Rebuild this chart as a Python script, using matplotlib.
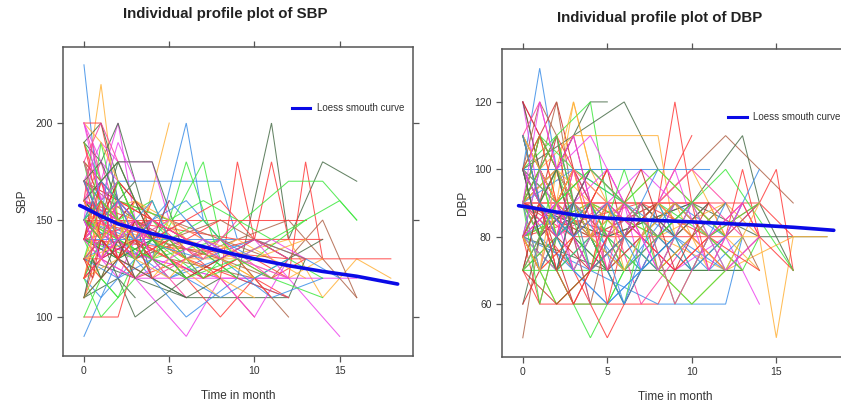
import matplotlib
matplotlib.use("Agg")
import matplotlib.pyplot as plt

plt.rcParams['font.family'] = ['Liberation Sans', 'DejaVu Sans']

# ---------------- data ----------------
sbp_times = [
    [0,1,2,3], [0,1,2,4], [0,1,2,3,4], [0,1,2,3], [0,1,2,4,6],
    [0,1,3,5], [0,2,4,6,7,8], [0,3,6,9,11,12,14,16], [0,4,8,9,10,12], [0,3,6,10,11,12],
    [0,5,10,12,13,14], [0,4,8,12,14,16], [0,1,2,8,9], [0,1,2,4,5], [0,1,2,4,6],
    [0,4,8,12,14,16,18], [0,6,12,16], [0,4,8,12,15], [0,2,4,6,8], [0,1,3],
    [0,2,3,6], [0,2,3,5], [0,3,6,12,13], [0,3,12,16], [0,13],
    [0,9], [0,2,9,14], [0,12,14,16,18], [0,1,2,3,4], [0,1,2,3],
    [0,1,2,3,4,5], [0,1,2,3], [0,1,2,4], [0,1,2,3,5], [0,1,2],
    [0,1,3,5,7], [0,1,2,3,4], [0,1,2,3], [0,1,2,3,4,6], [0,1,2,3],
    [0,2,4,6,8,10], [0,2,4,6,8,10,12], [0,3,6,9,12], [0,4,8,10,12], [0,5,10,12],
    [0,2,4,7,8], [0,3,5,6,8], [0,1,2,3,4,5], [0,1,2,3,4], [0,1,2,3,4],
    [0,1,2,3], [0,1,2,3,4], [0,1,2,3,5], [0,2,4,6], [0,1,2,3],
    [0,1,2], [0,1,2,3,4,6,8], [0,1,2,4,6,8,10], [0,2,5,8,11], [0,1,3,6,9,12],
    [0,1,2,3], [0,1,2], [0,1,2,3], [0,1,2,3,4], [0,1,2,3],
    [0,2,4,6,9,12,14], [0,3,7,10,13,15], [0,2,5,8,11,14], [0,1,2,3,4,5,6], [0,1,2,3,4],
    [0,4,8,11,14,16], [0,1,2,3,4], [0,1,2], [0,2,4,7,10,13,15,16], [0,1,2,3,5,7],
    [0,3,6,9], [0,1,2,3,4], [0,1,2,3,4], [0,1,2,4,6,9], [0,1,3,5,8],
    [0,2,4,6,8,10,12,14], [0,1,3,5,7,9,11,13], [0,2,4,6,8,10,12], [0,3,5,7,9,11,13], [0,1,2,4,6,8,10],
    [0,2,4,6,8,10,12,14], [0,1,3,5,7,9], [0,2,4,5,7,9,11], [0,1,2,3,5,7,9,11], [0,2,4,6,8,10],
    [0,1,3,5,7,9,11,13], [0,2,4,6,8,10,12], [0,1,2,3,4,6,8,10], [0,2,5,7,9,11,13], [0,1,3,4,6,8],
    [0,2,3,5,7,10,13], [0,1,2,4,6,8,11], [0,3,5,8,10,13], [0,1,2,3,4,5,6,7,8], [0,1,2,3,4,5,6],
    [0,2,4,6,8], [0,1,2,3,4,5,7,9], [0,1,3,5,7,9,12], [0,2,4,6,9,11,14], [0,1,2,3,5,6,8,10],
    [0,1,2,3,4,5], [0,2,3,4,6,8,10,12], [0,1,2,4,6,8], [0,1,2,3,4], [0,1,2,3,4],
    [0,0.5,1,2,3], [0,0.5,1,1.5,2], [0,1,1.5,2,3], [0,0.5,1,2], [0,1,2,3,4],
    [0,0.5,1,2,3], [0,1,2,3], [0,0.5,1,2,3,4], [0,1,2,3,4], [0,0.5,1,2],
    [0,1,2,3], [0,1,2,3,4,5], [0,0.5,1,2,3], [0,1,2,3,4], [0,1,2,3],
    [0,0.5,1,2,3], [0,1,2,3,4], [0,1,2,3], [0,1,2,3,4], [0,0.5,1,2],
    [0,1,2,3,4,6], [0,1,2,3], [0,1,2,3,4], [0,0.5,1,2,3], [0,1,2,3],
    [0,1,2,4,6], [0,1,2,3,4], [0,1,2,3], [0,0.5,1,2,3], [0,1,2,3,4],
]
sbp_values = [
    [230,150,140,130], [160,220,150,140], [200,200,160,150,140], [180,170,200,150], [190,180,200,140,130],
    [150,140,130,200], [160,140,130,200,150,140], [150,130,140,120,200,140,180,170], [140,150,120,180,140,130], [160,150,130,140,180,140],
    [150,140,130,120,180,130], [140,130,140,170,170,150], [150,160,170,170,140], [170,190,180,180,150], [160,150,180,180,130],
    [150,140,130,140,110,130,120], [160,130,150,110], [140,130,120,120,90], [150,130,110,90,120], [90,110,130],
    [110,120,100,120], [100,100,130,140], [130,120,110,110,130], [150,120,120,120], [150,150],
    [140,140], [160,150,140,140], [140,130,130,130,130], [170,160,150,140,150], [160,180,150,160],
    [140,150,160,150,140,130], [120,140,130,150], [130,120,140,130], [180,160,150,140,130], [200,170,150],
    [170,150,140,120,130], [110,130,120,140,120], [140,120,110,130], [150,140,130,150,120,110], [190,160,140,150],
    [130,150,140,130,120,100], [170,150,140,120,100,120,110], [150,130,100,120,110], [140,130,120,100,130], [150,130,120,100],
    [150,140,130,180,140], [140,130,150,180,130], [180,170,160,140,130,150], [160,130,140,120,130], [130,150,140,160,140],
    [150,170,160,130], [120,110,130,140,130], [140,160,130,120,140], [170,160,150,140], [130,140,120,110],
    [150,130,140], [160,150,140,130,140,150,130], [170,160,150,130,140,130,120], [180,160,150,140,130], [140,130,120,130,120,110],
    [110,140,150,130], [100,120,110], [120,100,110,120], [200,180,170,160,150], [190,200,170,150],
    [160,150,140,130,130,120,130], [150,140,130,140,130,120], [130,140,120,130,110,120], [150,140,160,150,130,120,110], [140,170,150,160,140],
    [160,140,130,120,150,110], [170,140,130,120,130], [180,150,160], [140,130,140,120,130,150,160,150], [160,170,150,140,130,120],
    [150,160,140,130], [150,130,150,140,120], [130,130,150,140,160], [120,140,130,150,140,120], [110,120,140,130,110],
    [150,140,150,130,140,120,130,120], [140,150,130,140,120,130,120,130], [160,150,140,150,130,140,120], [130,140,150,130,140,130,120], [150,160,140,150,160,140,130],
    [140,130,140,120,130,140,130,140], [160,140,150,140,130,150], [170,150,160,140,150,130,140], [130,120,130,140,130,120,130,110], [120,130,120,140,130,120],
    [150,130,140,150,140,130,140,130], [130,120,130,120,110,120,130], [160,150,170,150,140,150,160,140], [140,160,150,160,150,140,150], [120,130,140,130,120,130],
    [150,140,160,150,140,130,140], [140,150,130,120,130,140,120], [170,150,140,150,140,130], [130,140,130,120,130,140,130,120,130], [160,150,140,130,140,130,120],
    [140,160,150,140,150], [150,160,150,140,150,160,140,130], [120,130,120,130,140,130,120], [150,140,130,120,130,120,110], [130,150,140,130,120,130,120,110],
    [150,140,130,150,140,160], [160,150,140,150,140,130,140,130], [110,120,130,120,110,120], [140,130,160,150,130], [120,130,140,130,150],
    [190,170,160,150,140], [180,160,190,170,150], [170,150,180,160,140], [160,190,170,180], [200,190,170,160,150],
    [150,180,160,190,170], [170,180,160,170], [140,160,150,170,160,150], [130,160,170,150,140], [160,150,170,140],
    [180,200,180,160], [150,170,160,150,160,140], [120,140,160,150,140], [140,150,140,130,150], [190,170,180,160],
    [170,160,140,130,120], [160,170,180,160,140], [130,140,160,140], [120,150,140,150,130], [200,180,160,170],
    [150,160,150,130,140,120], [110,130,150,140], [170,150,160,140,150], [130,120,140,130,150], [150,140,170,150],
    [180,150,140,150,140], [140,160,130,140,120], [160,140,150,130], [110,130,120,140,120], [150,130,140,150,130],
]
sbp_colors = list("bormd" "obdrr" "rgbmd" "onmmb" "drdmr"
                  "brrgp" "rgonp" "bmgdr" "rrbmn" "ggopo"
                  "gbpkd" "mgonr" "rggmd" "obbpk" "nrggm"
                  "odrgo" "grmobdpgro" "mbrgkopngd" "rbmgokpdmr"
                  "rgbpomdkgr" "pbomgrdprm" "gobkgprodm")

dbp_times = [
    [0,1,2,3], [0,1,2,3], [0,1,2,3,4], [0,1,2,3], [0,1,2,3,4],
    [0,2,3,4,5], [0,2,3,4,5], [0,2,4,5,6], [0,3,6,8], [0,4,8,9,10,12],
    [0,1,3,8,9], [0,1,2,3,4], [0,4,8,12,14,16], [0,5,10,13,14,16], [0,5],
    [0,11], [0,8,14,16], [0,11,12], [0,5,10,14,18], [0,4,8,12,16,18],
    [0,13,14], [0,5,13], [0,1,8,9], [0,4,8,12,13], [0,2,3,5,6],
    [0,1,2], [0,2,4,6], [0,3,5,7,9], [0,4,8,12,14,15,16], [0,3,6,8,10],
    [0,6,12,13,14,16], [0,7,11,14,15,16], [0,4,8,12,16], [0,1,2,3,4,5], [0,1,2,3],
    [0,1,2,3,4], [0,1,2,3,4], [0,1,2,3,4], [0,1,2,3], [0,1,2,3,4,5,6],
    [0,1,2,3,4], [0,1,2,3], [0,1,2,3,4], [0,1,2,3,4], [0,1,2,3,4,6,8],
    [0,1,2,3,5,7], [0,1,2,4,6], [0,1,2,3,4,5], [0,1,2,3], [0,1,2,3,4],
    [0,2,4,6,8,10], [0,2,4,6,8,10,12], [0,3,6,9,12,14], [0,2,5,7,10,12], [0,1,3,5,7,9,11],
    [0,2,4,6,8,10,12,14], [0,1,2,3,4,5,6,7], [0,1,2,3], [0,1,2,3,4], [0,2,3,4,5],
    [0,1,2,4], [0,1,3,5,6,7], [0,2,4,6,8,9,11], [0,1,2,3,4,5], [0,1,2,3,4],
    [0,1,2,3,4,5,6], [0,3,6,9,12], [0,1,2,3], [0,1,2,3,4], [0,1,2,3,4,5],
    [0,2,4,6,8,10,12,14], [0,1,2,3,4,6,8,10,12], [0,2,4,6,8,10,12,14], [0,1,2,3,4], [0,1,3,5,7,9],
    [0,1,2,3,4], [0,2,4,6,7,9], [0,1,3,6], [0,1,2,3],
    [0,1,2,3,4,5,6,7,8,9,10], [0,2,4,6,8,10,12,14], [0,1,3,5,7,9,11,13], [0,2,3,5,7,9,11,13,14], [0,1,2,4,6,8,10,12],
    [0,1,2,3,4,6,8,10,12], [0,2,4,5,7,9,11], [0,1,3,5,7,9,11,13], [0,2,4,6,8,10,12,14], [0,1,2,3,5,7,9],
    [0,1,2,4,6,8,10,12,14], [0,1,3,5,6,8,10], [0,2,4,6,8,10], [0,1,2,3,4,5,7,9,11], [0,1,3,5,7,9,11,13],
    [0,2,4,6,8,10,12], [0,1,2,3,4,5,6], [0,1,2,4,6,8,11,14], [0,2,3,5,7,9,12], [0,1,2,3,4,6,8,10],
    [0,1,2,3,4,5], [0,2,4,6,8,10,12,13], [0,1,3,5,7,9,11], [0,1,2,3,4], [0,1,2,3,4,5,6,8],
    [0,2,4,6,8,10], [0,1,2,3,5,7,9,11,13], [0,1,2,3,4,6,8], [0,1,2,4,6,8,10,12], [0,1,3,5,7,9,11,14],
    [0,1,2,3,4,5,6,7,8,9,10,11,12,13,14], [0,1,2,3,5,7,9,11,13], [0,2,4,6,8,10,12,14], [0,1,3,5,7,9,11,13], [0,1,2,4,6,8,10,12,14],
    [0,1,2,3,4,5,6,7,8], [0,2,4,6,8,10,12], [0,1,2,3,4], [0,1,3,5,7,9,11], [0,1,2,3,4,6,8],
    [0,2,4,6,8,10,12,14], [0,1,2,3,4,5], [0,1,2,3], [0,1,2,3,4,5,6], [0,2,3,5,7,9,11,13],
    [0,1,2,3,4], [0,1,3,5,7,9], [0,1,2,3,4,5], [0,1,2,4,6,8,10], [0,1,2,3,4],
]
dbp_values = [
    [100,130,100,90], [120,100,90,80], [120,110,100,90,80], [90,110,120,100], [110,100,120,90,80],
    [100,90,120,100,90], [90,100,110,120,120], [100,110,120,90,80], [100,110,120,100], [90,80,90,120,90,80],
    [90,100,110,110,80], [100,90,100,120,100], [90,80,90,110,100,90], [90,80,90,110,90,70], [100,100],
    [100,100], [90,90,90,80], [90,90,80], [90,80,90,80,80], [80,90,80,70,80,80],
    [70,70,80], [80,70,70], [80,60,60,70], [80,70,60,60,80], [80,70,60,60,70],
    [50,80,90], [80,70,50,70], [90,70,50,70,80], [80,90,80,90,80,50,80], [90,80,80,90,110],
    [90,80,80,100,80,70], [80,90,80,90,100,70], [80,90,80,100,70], [110,90,80,100,90,80], [120,90,80,70],
    [110,100,90,80,70], [90,80,100,90,80], [100,90,110,80,90], [80,100,90,100], [90,80,90,70,80,90,80],
    [70,90,80,90,100], [100,80,70,80], [80,70,90,80,60], [90,100,80,70,80], [110,90,100,80,90,70,80],
    [80,90,70,90,80,70], [100,110,90,80,90], [70,80,70,80,90,80], [60,80,90,80], [90,100,90,80,90],
    [100,90,80,70,80,90], [90,80,90,80,70,80,90], [80,90,70,90,80,90], [100,80,90,60,80,70], [90,70,80,100,80,90,70],
    [80,70,80,90,80,70,80,60], [90,80,70,80,90,100,80,90], [110,90,80,90], [100,80,90,100,90], [90,100,80,60,80],
    [70,60,80,90], [100,90,80,70,60,80], [80,90,80,60,80,90,80], [110,100,80,90,70,90], [80,90,100,90,80],
    [100,90,80,90,80,70,80], [90,100,90,80,70], [120,100,90,100], [120,110,100,110,90], [90,110,100,80,70,90],
    [90,100,90,80,90,100,80,80], [80,70,80,70,80,90,80,70,80], [70,80,90,80,70,80,90,70], [80,100,110,90,80], [100,110,90,80,90,80],
    [60,70,80,90,80], [80,100,110,90,70,90], [90,110,100,90], [100,120,110,90],
    [90,80,70,80,90,80,70,80,90,80,70], [80,90,100,90,80,90,80,90], [90,80,70,60,70,80,70,80], [100,90,80,90,100,90,80,90,80], [80,70,60,70,80,70,60,70],
    [90,100,90,80,90,80,90,100,90], [70,80,90,80,70,80,90], [100,90,80,70,80,90,80,70], [90,80,70,80,90,80,70,80], [80,90,80,70,60,70,80],
    [110,100,90,80,90,100,90,80,70], [90,80,90,100,90,80,90], [100,90,100,90,100,90], [80,90,80,90,80,70,80,70,80], [70,80,90,80,90,80,90,80],
    [90,70,80,60,80,70,90], [100,80,90,80,70,80,90], [90,100,80,90,80,90,80,90], [80,90,100,90,80,70,80], [110,90,100,80,90,80,70,80],
    [90,100,110,100,90,100], [80,60,70,80,70,60,70,80], [100,80,90,70,90,80,90], [110,120,100,90,100], [80,90,100,90,80,90,80,70],
    [70,60,70,80,90,80], [90,80,90,100,90,80,90,80,70], [100,90,80,90,100,90,80], [90,80,70,80,70,80,90,80], [80,70,80,90,80,70,80,70],
    [80,90,70,80,90,60,80,90,70,80,90,70,80,90,80], [90,60,80,90,70,90,60,80,70], [100,80,90,60,90,70,80,100], [80,100,70,90,80,100,70,90], [90,70,100,80,70,90,80,70,90],
    [100,90,100,80,90,70,90,80,70], [80,100,70,100,70,90,70], [110,90,100,80,90], [70,90,60,80,100,70,90], [90,70,80,90,70,80,100],
    [80,90,70,90,70,90,70,80], [100,110,90,100,80,90], [90,100,110,90], [80,70,90,100,80,90,70], [90,80,100,70,90,60,80,90],
    [100,80,70,90,100], [110,90,80,90,70,80], [80,90,70,60,70,80], [70,80,90,100,90,80,90], [90,120,100,110,90],
]
dbp_colors = list("brpkn" "odgdr" "oonde" "brrdo"
                  "gdrbg" "ngror" "rrgpm" "bgkop" "drmgn"
                  "bopdr" "mgbpo" "mkgbn" "rgdon" "mbdkr"
                  "ognbg" "kmgn" "grbmopgdkb" "omgrpbngmo" "rgdpbkomgr"
                  "rgbmopgdkb" "mrgopdbrgm")

# loess smooth curves
sbp_loess_t = [-0.25, 0, 1, 2, 3, 4, 5, 6, 8, 10, 12, 14, 16, 18.4]
sbp_loess_v = [157.5, 156.5, 152, 148, 145.5, 143, 141, 138.5, 134, 130, 126.5, 123.5, 121, 117]
dbp_loess_t = [-0.25, 0, 1, 2, 3, 4, 5, 6, 8, 10, 12, 14, 16, 18.4]
dbp_loess_v = [89.2, 89, 88.2, 87.3, 86.5, 85.9, 85.5, 85.2, 84.8, 84.4, 83.9, 83.4, 82.8, 81.9]

x_ticks = [0, 5, 10, 15]
sbp_ticks = [100, 150, 200]
dbp_ticks = [60, 80, 100, 120]

# ---------------- style ----------------
palette = {
    'r': '#FF3B3B', 'g': '#3FE83F', 'b': '#3D8FE8', 'o': '#FFB23A',
    'm': '#EE44EE', 'd': '#4A6E4A', 'n': '#B0654A', 'p': '#FF3FA0',
    'k': '#D02A2A', 'e': '#3BC4C4',
}

fig = plt.figure(figsize=(8.41, 4.03), dpi=100)
ax1 = fig.add_axes([63/841, 1-356/403, 350/841, 309/403])
ax2 = fig.add_axes([502/841, 1-357/403, 347/841, 308/403])

def style(ax, yticks, ylim):
    ax.set_xlim(-1.23, 19.3)
    ax.set_ylim(*ylim)
    ax.set_xticks(x_ticks)
    ax.set_yticks(yticks)
    ax.tick_params(direction='out', length=4.5, width=0.9, top=True, right=True,
                   labeltop=False, labelright=False, colors='#555555',
                   labelcolor='#333333', labelsize=7.5, pad=3)
    for s in ax.spines.values():
        s.set_color('#555555')
        s.set_linewidth(1.1)

def draw(ax, times, values, colors):
    for i, (t, v) in enumerate(zip(times, values)):
        c = palette[colors[i % len(colors)]]
        ax.plot(t, v, color=c, lw=0.75, alpha=0.85, solid_joinstyle='miter')

draw(ax1, sbp_times, sbp_values, sbp_colors)
ax1.plot(sbp_loess_t, sbp_loess_v, color='#0A0AE6', lw=2.6, solid_capstyle='round')
style(ax1, sbp_ticks, (79.9, 239.2))
ax1.plot([0.654, 0.706], [0.803, 0.803], transform=ax1.transAxes, color='#0A0AE6', lw=2.2)
ax1.text(0.726, 0.803, 'Loess smouth curve', transform=ax1.transAxes, fontsize=7,
         va='center', ha='left', color='#333333')
ax1.set_ylabel('SBP', fontsize=8.5, color='#333333', labelpad=5)
ax1.set_xlabel('Time in month', fontsize=8.5, color='#333333', labelpad=10)

draw(ax2, dbp_times, dbp_values, dbp_colors)
ax2.plot(dbp_loess_t, dbp_loess_v, color='#0A0AE6', lw=2.6, solid_capstyle='round')
style(ax2, dbp_ticks, (44.3, 135.7))
ax2.plot([0.651, 0.706], [0.779, 0.779], transform=ax2.transAxes, color='#0A0AE6', lw=2.2)
ax2.text(0.723, 0.779, 'Loess smouth curve', transform=ax2.transAxes, fontsize=7,
         va='center', ha='left', color='#333333')
ax2.set_ylabel('DBP', fontsize=8.5, color='#333333', labelpad=4)
ax2.set_xlabel('Time in month', fontsize=8.5, color='#333333', labelpad=10)

fig.text(225/841, 1-14/403, 'Individual profile plot of SBP', ha='center', va='center',
         fontsize=10.8, fontweight='bold', color='#222222')
fig.text(660/841, 1-18/403, 'Individual profile plot of DBP', ha='center', va='center',
         fontsize=10.8, fontweight='bold', color='#222222')

fig.savefig('out.png', dpi=100, facecolor='white')
